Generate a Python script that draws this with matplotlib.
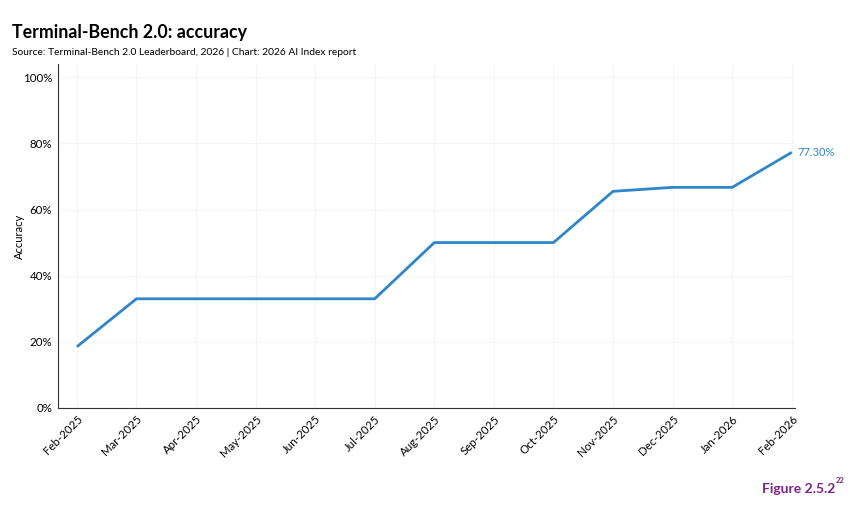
import matplotlib.pyplot as plt

months = ["Feb-2025", "Mar-2025", "Apr-2025", "May-2025", "Jun-2025", "Jul-2025",
          "Aug-2025", "Sep-2025", "Oct-2025", "Nov-2025", "Dec-2025", "Jan-2026", "Feb-2026"]
accuracy = [18.5, 33.0, 33.0, 33.0, 33.0, 33.0, 50.0, 50.0, 50.0, 65.5, 66.7, 66.7, 77.3]

line_color = "#2f86c8"
font = "Lato"

fig = plt.figure(figsize=(8.5, 5.08), dpi=100)
ax = fig.add_axes([0.068, 0.197, 0.867, 0.677])

x = list(range(len(months)))
ax.plot(x, accuracy, color=line_color, lw=2.0, solid_capstyle="butt")
ax.text(x[-1] + 0.1, accuracy[-1], f"{accuracy[-1]:.2f}%", color=line_color,
        fontsize=8, family=font, va="center", ha="left")

ax.set_xlim(-0.32, 12.05)
ax.set_ylim(0, 104)
ax.set_xticks(x)
ax.set_xticklabels(months, rotation=45, ha="right", rotation_mode="anchor",
                   fontsize=8.3, family=font)
ax.set_yticks([0, 20, 40, 60, 80, 100])
ax.set_yticklabels([f"{v}%" for v in [0, 20, 40, 60, 80, 100]], fontsize=8.3, family=font)
ax.set_ylabel("Accuracy", fontsize=8, family=font)
ax.yaxis.set_label_coords(-0.044, 0.5)
ax.grid(True, color="#f5f5f5", lw=0.8)
ax.set_axisbelow(True)
for s in ["top", "right"]:
    ax.spines[s].set_visible(False)
ax.spines["left"].set_color("#333333")
ax.spines["bottom"].set_color("#333333")
ax.tick_params(length=0, pad=4)

fig.text(0.014, 0.925, "Terminal-Bench 2.0: accuracy", fontsize=12.8,
         fontweight="bold", family=font, va="baseline")
fig.text(0.014, 0.892, "Source: Terminal-Bench 2.0 Leaderboard, 2026 | Chart: 2026 AI Index report",
         fontsize=7.4, family=font, va="baseline")
fig.text(0.983, 0.03, "Figure 2.5.2", fontsize=10, color="#7a2484",
         family=font, ha="right", va="baseline", fontweight="bold")
fig.text(0.9835, 0.05, "22", fontsize=5.5, color="#7a2484",
         family=font, ha="left", va="baseline", fontweight="bold")

fig.savefig("out.png", dpi=100)
